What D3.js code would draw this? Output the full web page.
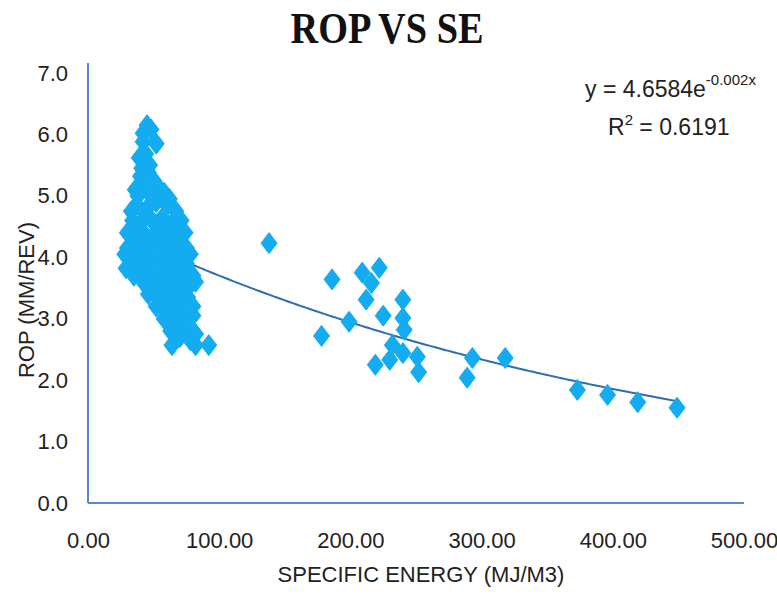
<!DOCTYPE html>
<html>
<head>
<meta charset="utf-8">
<script src="https://cdn.jsdelivr.net/npm/d3@7"></script>
<style>
  body { margin: 0; background: #fff; }
  .tick text { font-family: "Liberation Sans", Arial, sans-serif; }
</style>
</head>
<body>
<div id="chart"></div>
<script>
// specific energy (MJ/m3) for each sample
var seValues = [
  45, 42, 48, 42, 52, 39, 44, 40, 46, 50, 36, 42, 55, 58,
  37, 45, 52, 60, 67, 34, 40, 48, 57, 64, 71, 38, 44, 52, 60, 68, 74,
  30, 36, 43, 50, 58, 65, 75, 28, 38, 46, 54, 62, 70, 78,
  29, 40, 48, 56, 64, 72, 80, 42, 50, 58, 66, 82,
  46, 53, 60, 68, 76, 52, 58, 65, 72, 80, 58, 64, 70, 80,
  63, 68, 76, 82, 64, 82, 92,
  47, 41, 38, 48, 62, 33, 44, 53, 61, 70, 32, 41, 56, 67, 33, 45, 58, 75,
  35, 45, 52, 62, 70, 76, 55, 63, 72, 56, 75, 68, 61, 70, 78, 72, 30,
  138, 186, 178, 199, 209, 222, 216, 212, 225, 240, 240, 241,
  232, 240, 230, 219, 251, 252, 293, 289, 318, 373, 396, 419, 449
];
// rate of penetration (mm/rev) for each sample
var ropValues = [
  6.15, 6.02, 6.08, 5.88, 5.85, 5.62, 5.68, 5.32, 5.38, 5.25, 5.10, 5.12, 5.10, 5.05,
  4.85, 4.80, 4.90, 4.85, 4.75, 4.60, 4.55, 4.62, 4.65, 4.55, 4.60, 4.40, 4.35, 4.42, 4.45, 4.35, 4.40,
  4.15, 4.20, 4.22, 4.25, 4.15, 4.20, 4.15, 4.05, 4.00, 3.95, 4.00, 4.05, 3.95, 4.05,
  3.82, 3.80, 3.75, 3.85, 3.80, 3.75, 3.70, 3.60, 3.55, 3.60, 3.55, 3.60,
  3.40, 3.35, 3.42, 3.30, 3.35, 3.20, 3.15, 3.22, 3.10, 3.20, 3.00, 2.95, 3.00, 3.05,
  2.80, 2.85, 2.80, 2.75, 2.57, 2.57, 2.57,
  5.50, 5.45, 5.00, 5.00, 4.95, 4.75, 4.70, 4.55, 4.30, 4.25, 4.35, 4.10, 4.35, 4.10, 3.95, 4.05, 3.90, 3.90,
  3.70, 3.90, 3.70, 3.65, 3.60, 3.50, 3.45, 3.30, 3.45, 3.25, 3.00, 3.10, 3.05, 2.70, 2.65, 2.90, 4.40,
  4.23, 3.64, 2.72, 2.95, 3.75, 3.83, 3.58, 3.31, 3.05, 3.31, 3.01, 2.82,
  2.57, 2.44, 2.33, 2.25, 2.38, 2.13, 2.36, 2.04, 2.36, 1.84, 1.76, 1.64, 1.55
];
var xTicks = [0, 100, 200, 300, 400, 500];
var yTicks = [0, 1, 2, 3, 4, 5, 6, 7];
// exponential trendline y = a * e^(k x)
var trendA = 4.6584;
var trendK = -0.0023;

function drawChart() {
  var width = 777, height = 596;
  var margin = {top: 73, right: 33, bottom: 93, left: 88};

  var svg = d3.select("#chart").append("svg")
      .attr("width", width)
      .attr("height", height);

  var x = d3.scaleLinear().domain([0, 500]).range([margin.left, width - margin.right]);
  var y = d3.scaleLinear().domain([0, 7]).range([height - margin.bottom, margin.top]);

  var points = seValues.map(function(d, i) { return {se: d, rop: ropValues[i]}; });

  svg.append("text")
      .attr("x", 387)
      .attr("y", 43)
      .attr("text-anchor", "middle")
      .attr("textLength", 193)
      .attr("lengthAdjust", "spacingAndGlyphs")
      .style("font", "bold 44px 'Liberation Serif', 'Times New Roman', serif")
      .style("fill", "#111")
      .text("ROP VS SE");

  // axes (no ticks, just labels + blue lines)
  var xAxis = svg.append("g")
      .attr("transform", "translate(0," + y(0) + ")")
      .call(d3.axisBottom(x).tickValues(xTicks).tickSize(0).tickPadding(0)
        .tickFormat(function(d) { return d3.format(".2f")(d); }));
  xAxis.select(".domain").remove();
  xAxis.selectAll("text").attr("y", 45).attr("dy", 0)
      .style("font-size", "22px").style("fill", "#222");

  var yAxis = svg.append("g")
      .attr("transform", "translate(" + x(0) + ",0)")
      .call(d3.axisLeft(y).tickValues(yTicks).tickSize(0).tickPadding(20)
        .tickFormat(d3.format(".1f")));
  yAxis.select(".domain").remove();
  yAxis.selectAll("text").style("font-size", "22px").style("fill", "#222");

  svg.append("line")
      .attr("x1", x(0)).attr("x2", x(0))
      .attr("y1", y(0)).attr("y2", y(7) - 10)
      .attr("stroke", "#5b87cf").attr("stroke-width", 2);
  svg.append("line")
      .attr("x1", x(0)).attr("x2", x(500))
      .attr("y1", y(0)).attr("y2", y(0))
      .attr("stroke", "#5b87cf").attr("stroke-width", 2);

  // trendline over data range
  var seExtent = d3.extent(seValues);
  var trendX = d3.range(seExtent[0], seExtent[1] + 1, 2);
  var line = d3.line()
      .x(function(d) { return x(d); })
      .y(function(d) { return y(trendA * Math.exp(trendK * d)); });
  svg.append("path")
      .datum(trendX)
      .attr("d", line)
      .attr("fill", "none")
      .attr("stroke", "#2f6db3")
      .attr("stroke-width", 2);

  // diamond markers
  var w = 8, h = 10.5;
  var diamond = "M0," + (-h) + "L" + w + ",0L0," + h + "L" + (-w) + ",0Z";
  svg.append("g").selectAll("path")
      .data(points)
      .enter().append("path")
      .attr("d", diamond)
      .attr("transform", function(d) { return "translate(" + x(d.se) + "," + y(d.rop) + ")"; })
      .attr("fill", "#13acf0")
      .attr("stroke", "#13acf0")
      .attr("stroke-width", 1);

  // equation
  var eq = svg.append("text")
      .attr("x", 585).attr("y", 97)
      .style("font", "23px 'Liberation Sans', Arial, sans-serif")
      .style("fill", "#222");
  eq.append("tspan").text("y = " + trendA + "e");
  eq.append("tspan").attr("dy", -12).style("font-size", "15px").text("-0.002x");

  var r2 = svg.append("text")
      .attr("x", 608).attr("y", 135)
      .style("font", "23px 'Liberation Sans', Arial, sans-serif")
      .style("fill", "#222");
  r2.append("tspan").text("R");
  r2.append("tspan").attr("dy", -10).style("font-size", "15px").text("2");
  r2.append("tspan").attr("dy", 10).text(" = 0.6191");

  // axis titles
  svg.append("text")
      .attr("x", 421).attr("y", 582)
      .attr("text-anchor", "middle")
      .style("font", "22px 'Liberation Sans', Arial, sans-serif")
      .style("fill", "#222")
      .text("SPECIFIC ENERGY (MJ/M3)");

  svg.append("text")
      .attr("transform", "translate(34,300) rotate(-90)")
      .attr("text-anchor", "middle")
      .style("font", "22px 'Liberation Sans', Arial, sans-serif")
      .style("fill", "#222")
      .text("ROP (MM/REV)");
}

drawChart();
</script>
</body>
</html>
